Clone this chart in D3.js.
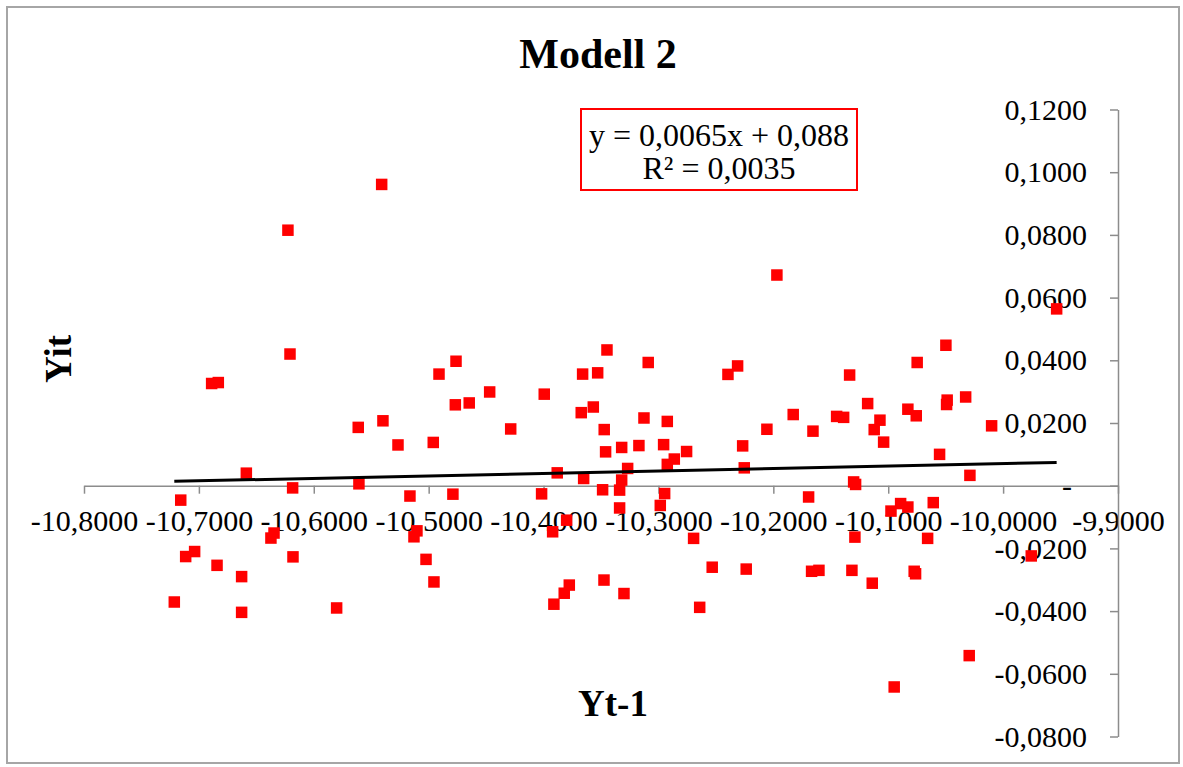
<!DOCTYPE html>
<html>
<head>
<meta charset="utf-8">
<script src="https://cdn.jsdelivr.net/npm/d3@7"></script>
<style>
  html, body { margin: 0; padding: 0; background: #fff; }
  svg { display: block; }
  text { font-family: "Times New Roman", "Liberation Serif", serif; fill: #000; }
</style>
</head>
<body>
<svg id="chart" width="1183" height="767"></svg>
<script>
// Lagged level (Yt-1) against current value (Yit)
const prevValues = [
  -10.7214, -10.7158, -10.7115, -10.7037, -10.6889, -10.6831, -10.6842, -10.6628, -10.6628, -10.6587,
  -10.6373, -10.6346, -10.6225, -10.6207, -10.6184, -10.6181, -10.5801, -10.5613, -10.5607, -10.5409,
  -10.5398, -10.5267, -10.5163, -10.5128, -10.5102, -10.5023, -10.4960, -10.4954, -10.4910, -10.4789,
  -10.4768, -10.4762, -10.4647, -10.4469, -10.4286, -10.4017, -10.3994, -10.3921, -10.3910, -10.3881,
  -10.3820, -10.3799, -10.3776, -10.3672, -10.3660, -10.3651, -10.3567, -10.3529, -10.3486, -10.3474,
  -10.3472, -10.3460, -10.3448, -10.3338, -10.3338, -10.3320, -10.3320, -10.3300, -10.3268, -10.3170,
  -10.3126, -10.3089, -10.2984, -10.2955, -10.2946, -10.2923, -10.2923, -10.2862, -10.2755, -10.2694,
  -10.2641, -10.2532, -10.2395, -10.2311, -10.2267, -10.2253, -10.2236, -10.2056, -10.1969, -10.1827,
  -10.1693, -10.1667, -10.1655, -10.1603, -10.1449, -10.1388, -10.1336, -10.1316, -10.1301, -10.1284,
  -10.1290, -10.1179, -10.1139, -10.1122, -10.1072, -10.1040, -10.0976, -10.0948, -10.0892, -10.0829,
  -10.0829, -10.0774, -10.0762, -10.0756, -10.0748, -10.0657, -10.0608, -10.0553, -10.0498, -10.0492,
  -10.0487, -10.0326, -10.0295, -10.0289, -10.0100, -9.9755, -9.9534
];
const currValues = [
  -0.0371, -0.0046, -0.0226, -0.0210, 0.0326, 0.0329, -0.0254, -0.0290, -0.0404, 0.0040,
  -0.0167, -0.0151, 0.0815, 0.0420, -0.0007, -0.0227, -0.0390, 0.0186, 0.0006, 0.0961,
  0.0207, 0.0130, -0.0033, -0.0163, -0.0144, -0.0235, 0.0138, -0.0307, 0.0356, -0.0027,
  0.0258, 0.0397, 0.0264, 0.0299, 0.0181, -0.0026, 0.0292, -0.0147, -0.0378, 0.0041,
  -0.0343, -0.0110, -0.0317, 0.0233, 0.0356, 0.0023, 0.0251, 0.0360, -0.0013, -0.0301,
  0.0179, 0.0108, 0.0433, -0.0014, -0.0071, 0.0122, 0.0018, -0.0344, 0.0055, 0.0128,
  0.0216, 0.0393, -0.0063, 0.0131, -0.0025, 0.0205, 0.0068, 0.0085, 0.0109, -0.0168,
  -0.0388, -0.0260, 0.0355, 0.0382, 0.0127, 0.0057, -0.0266, 0.0180, 0.0672, 0.0227,
  -0.0036, -0.0273, 0.0174, -0.0270, 0.0221, 0.0218, 0.0353, -0.0270, 0.0012, 0.0004,
  -0.0164, 0.0262, -0.0311, 0.0179, 0.0209, 0.0139, -0.0081, -0.0642, -0.0057, 0.0244,
  -0.0068, -0.0273, -0.0281, 0.0223, 0.0393, -0.0168, -0.0054, 0.0100, 0.0448, 0.0259,
  0.0273, 0.0283, -0.0542, 0.0033, 0.0191, -0.0224, 0.0564
];

const xTicks = [-10.8, -10.7, -10.6, -10.5, -10.4, -10.3, -10.2, -10.1, -10.0, -9.9];
const yTicks = [-0.08, -0.06, -0.04, -0.02, 0, 0.02, 0.04, 0.06, 0.08, 0.10, 0.12];

const chartTitle = "Modell 2";
const xTitle = "Yt-1";
const yTitle = "Yit";
const equationLines = ["y = 0,0065x + 0,088", "R\u00b2 = 0,0035"];

// Norwegian number style: comma decimal, plain hyphen for minus
const locale = d3.formatLocale({ decimal: ",", thousands: " ", grouping: [3], currency: ["", ""], minus: "-" });
const fmt4 = locale.format(".4f");

const svg = d3.select("#chart");
const W = 1183, H = 767;

svg.append("rect").attr("width", W).attr("height", H).attr("fill", "#fff");
// chart frame
svg.append("rect")
  .attr("x", 7).attr("y", 7).attr("width", W - 11).attr("height", H - 11)
  .attr("fill", "none").attr("stroke", "#a6a6a6").attr("stroke-width", 2);

const x = d3.scaleLinear().domain([-10.8, -9.9]).range([84, 1118]);
const y = d3.scaleLinear().domain([-0.08, 0.12]).range([736.5, 109.5]);

const axisColor = "#8c8c8c";

// horizontal axis crossing at y = 0
const gx = svg.append("g")
  .attr("transform", `translate(0,${y(0)})`)
  .call(d3.axisBottom(x).tickValues(xTicks).tickFormat(fmt4).tickSize(8).tickSizeOuter(0));
gx.select(".domain").attr("stroke", axisColor).attr("stroke-width", 1.5);
gx.selectAll(".tick line").attr("stroke", axisColor).attr("stroke-width", 1.5);
gx.selectAll(".tick text")
  .attr("y", 45).attr("dy", 0)
  .style("font-size", "30px");

// vertical axis on the right side, at x = -9.9
const gy = svg.append("g")
  .attr("transform", `translate(${x(-9.9)},0)`)
  .call(d3.axisLeft(y).tickValues(yTicks)
    .tickFormat(d => Math.abs(d) < 1e-12 ? "-" : fmt4(d))
    .tickSize(8).tickSizeOuter(0));
gy.select(".domain").attr("stroke", axisColor).attr("stroke-width", 1.5);
gy.selectAll(".tick line").attr("stroke", axisColor).attr("stroke-width", 1.5);
gy.selectAll(".tick text")
  .attr("x", -31).attr("dy", "0.32em")
  .style("font-size", "30px")
  .attr("dx", d => Math.abs(d) < 1e-12 ? "-0.5em" : 0);

// points
const pts = d3.zip(prevValues, currValues);
const s = 11.5;
svg.append("g").selectAll("rect").data(pts).join("rect")
  .attr("x", d => x(d[0]) - s / 2)
  .attr("y", d => y(d[1]) - s / 2)
  .attr("width", s).attr("height", s)
  .attr("fill", "#ff0000");

// least-squares trend line over the data range
const mx = d3.mean(prevValues), my = d3.mean(currValues);
let sxy = 0, sxx = 0;
pts.forEach(([a, b]) => { sxy += (a - mx) * (b - my); sxx += (a - mx) * (a - mx); });
const slope = sxy / sxx, intercept = my - slope * mx;
const [xmin, xmax] = d3.extent(prevValues);
svg.append("line")
  .attr("x1", x(xmin)).attr("y1", y(slope * xmin + intercept))
  .attr("x2", x(xmax)).attr("y2", y(slope * xmax + intercept))
  .attr("stroke", "#000").attr("stroke-width", 3);

// equation box
const box = svg.append("g");
box.append("rect")
  .attr("x", 581).attr("y", 109).attr("width", 276).attr("height", 81)
  .attr("fill", "#fff").attr("stroke", "#ff0000").attr("stroke-width", 2);
box.selectAll("text").data(equationLines).join("text")
  .attr("x", 719).attr("y", (d, i) => 146 + i * 33)
  .attr("text-anchor", "middle")
  .style("font-size", "32px")
  .text(d => d);

// titles
svg.append("text").attr("x", 598).attr("y", 68).attr("text-anchor", "middle")
  .style("font-size", "42px").style("font-weight", "bold").text(chartTitle);
svg.append("text").attr("x", 613).attr("y", 716).attr("text-anchor", "middle")
  .style("font-size", "37px").style("font-weight", "bold").text(xTitle);
svg.append("text").attr("transform", "translate(71,359) rotate(-90)").attr("text-anchor", "middle")
  .style("font-size", "37px").style("font-weight", "bold").text(yTitle);
</script>
</body>
</html>
